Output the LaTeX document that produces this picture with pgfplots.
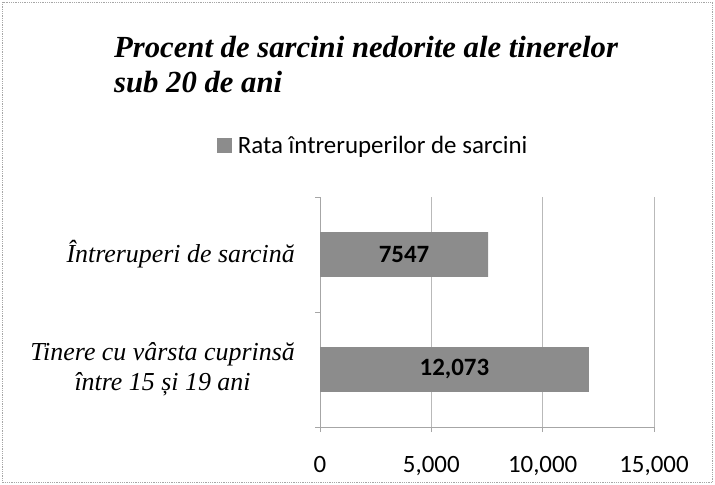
\documentclass[border=0pt]{standalone}
\usepackage{fontspec}
\setmainfont{Liberation Serif}
\newfontfamily\calibri{Carlito}
\usepackage{pgfplots}
\pgfplotsset{compat=1.18}
\definecolor{barfill}{gray}{0.55}
\begin{document}
\begin{tikzpicture}
\path[use as bounding box] (0,0) rectangle (715bp,485bp);
\draw[gray!70, densely dotted, line width=0.8bp] (2.5bp,2.5bp) rectangle (712.5bp,482.5bp);
\node[anchor=base west, inner sep=0pt, font=\fontsize{30.8}{34}\selectfont\bfseries\itshape] at (114bp,427bp) {Procent de sarcini nedorite ale tinerelor};
\node[anchor=base west, inner sep=0pt, font=\fontsize{30.8}{34}\selectfont\bfseries\itshape] at (114bp,392bp) {sub 20 de ani};
\begin{axis}[
  at={(320bp,58bp)}, anchor=south west,
  scale only axis, width=334bp, height=230bp,
  xbar, bar width=0.39,
  xmin=0, xmax=15000, ymin=-0.5, ymax=1.5,
  xtick={0,5000,10000,15000},
  ytick={-0.5,0.5,1.5},
  yticklabels={\empty,\empty,\empty},
  extra y ticks={0,1},
  extra y tick labels={{Tinere cu vârsta cuprinsă\\între 15 și 19 ani},{Întreruperi de sarcină}},
  extra y tick style={major tick length=0pt},
  tick align=outside,
  major tick length=5bp,
  tick style={gray!70, line width=0.6bp},
  axis lines*=left,
  axis line style={-, gray!70, line width=0.8bp},
  xmajorgrids, grid style={gray!55, line width=0.6bp},
  scaled x ticks=false,
  /pgf/number format/.cd, 1000 sep={,}, assume math mode=true, /pgfplots/.cd,
  xticklabel style={font=\fontsize{25}{30}\selectfont\calibri, inner sep=0pt, anchor=north, yshift=-24bp},
  yticklabel style={font=\fontsize{26}{30}\selectfont\itshape, align=center, inner sep=0pt, anchor=east, xshift=-25bp},
  legend style={at={(0.156,1.222)}, anchor=center, draw=none, fill=none, inner sep=0pt,
    nodes={inner sep=0pt, font=\fontsize{25}{30}\selectfont\calibri}, column sep=6bp},
  legend image code/.code={\fill[barfill] (0bp,-7.5bp) rectangle (15bp,7.5bp);},
  nodes near coords,
  point meta=explicit symbolic,
  visualization depends on={rawx \as \rawx},
  every node near coord/.append style={font=\fontsize{25}{30}\selectfont\calibri\bfseries, anchor=center, inner sep=0pt,
    shift={(axis direction cs:-\rawx/2,0)}},
]
\addplot[fill=barfill, draw=none] table[x=x, y=y, meta=label] {
x y label
12073 0 12,073
7547 1 7547
};
\legend{Rata întreruperilor de sarcini}
\end{axis}
\end{tikzpicture}
\end{document}
